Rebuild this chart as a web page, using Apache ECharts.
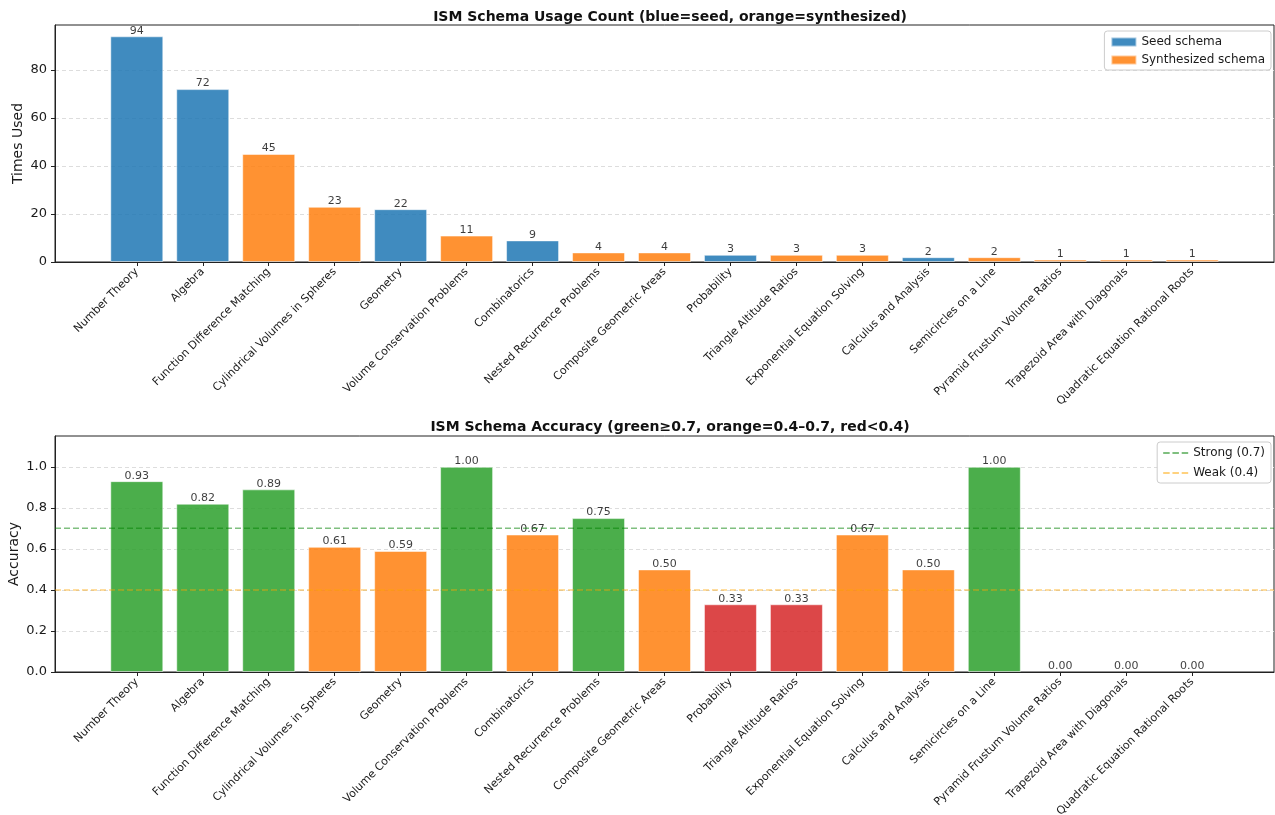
<!DOCTYPE html>
<html>
<head>
<meta charset="utf-8">
<script src="https://cdn.jsdelivr.net/npm/echarts@6/dist/echarts.min.js"></script>
<style>
  html, body { margin: 0; padding: 0; background: #fff; }
  #main { width: 1275px; height: 815px; }
</style>
</head>
<body>
<div id="main"></div>
<script>
// schema names, in plot order
const schemas = [
  'Number Theory', 'Algebra', 'Function Difference Matching', 'Cylindrical Volumes in Spheres',
  'Geometry', 'Volume Conservation Problems', 'Combinatorics', 'Nested Recurrence Problems',
  'Composite Geometric Areas', 'Probability', 'Triangle Altitude Ratios', 'Exponential Equation Solving',
  'Calculus and Analysis', 'Semicircles on a Line', 'Pyramid Frustum Volume Ratios',
  'Trapezoid Area with Diagonals', 'Quadratic Equation Rational Roots'
];
const usageCount = [94, 72, 45, 23, 22, 11, 9, 4, 4, 3, 3, 3, 2, 2, 1, 1, 1];
const isSeed = [true, true, false, false, true, false, true, false, false, true, false, false, true, false, false, false, false];
const accuracy = [0.93, 0.82, 0.89, 0.61, 0.59, 1.00, 0.67, 0.75, 0.50, 0.33, 0.33, 0.67, 0.50, 1.00, 0.00, 0.00, 0.00];
const strongLine = 0.7;
const weakLine = 0.4;

const FONT = 'DejaVu Sans';
const BLUE = '#1f77b4', ORANGE = '#ff7f0e', GREEN = '#2ca02c', RED = '#d62728';

const myChart = echarts.init(document.getElementById('main'), null, { renderer: 'canvas' });

const idx = schemas.map((_, i) => i);
const XMIN = -1.24, XMAX = 17.24;

function xAxisFor(gridIndex) {
  return {
    type: 'value', gridIndex, min: XMIN, max: XMAX,
    splitLine: { show: false },
    axisLine: { show: true, onZero: false, lineStyle: { color: '#222', width: 1 } },
    axisTick: { show: true, customValues: idx, length: 4, lineStyle: { color: '#222' } },
    axisLabel: {
      customValues: idx, rotate: 45, margin: 8, fontSize: 11, color: '#1a1a1a', fontFamily: FONT,
      formatter: v => schemas[Math.round(v)]
    }
  };
}

function yAxisFor(gridIndex, name, max, interval, gap, fmt) {
  return {
    type: 'value', gridIndex, min: 0, max, interval,
    name, nameLocation: 'middle', nameGap: gap, nameMoveOverlap: false,
    nameTextStyle: { fontSize: 14, color: '#1a1a1a', fontFamily: FONT },
    axisLine: { show: true, onZero: false, lineStyle: { color: '#222' } },
    axisTick: { show: true, length: 4, lineStyle: { color: '#222' } },
    axisLabel: { fontSize: 13, color: '#1a1a1a', fontFamily: FONT, showMaxLabel: false, formatter: fmt },
    splitLine: { show: true, showMinLine: false, showMaxLine: false,
      lineStyle: { color: '#dddddd', type: [4, 3], width: 1 } }
  };
}

const seedData = [], synthData = [];
idx.forEach(i => {
  (isSeed[i] ? seedData : synthData).push([i, usageCount[i]]);
});

const accColor = v => v >= 0.7 ? GREEN : (v >= 0.4 ? ORANGE : RED);
const accData = idx.map(i => ({
  value: [i, accuracy[i]],
  itemStyle: { color: accColor(accuracy[i]), borderWidth: accuracy[i] > 0 ? 1 : 0 }
}));

const barLabel = fmt => ({
  show: true, position: 'top', distance: 0, fontSize: 11, color: '#1a1a1a', fontFamily: FONT, formatter: fmt
});
const barStyle = c => ({ color: c, opacity: 0.85, borderColor: 'rgba(255,255,255,0.6)', borderWidth: 1 });

const dash = 'path://M0,0h7v2h-7zM10,0h7v2h-7zM20,0h7v2h-7z';

myChart.setOption({
  animation: false,
  textStyle: { fontFamily: FONT },
  title: [
    { text: 'ISM Schema Usage Count (blue=seed, orange=synthesized)', left: 665, top: 5, textAlign: 'center',
      textStyle: { fontSize: 14, fontWeight: 'bold', color: '#111', fontFamily: FONT } },
    { text: 'ISM Schema Accuracy (green\u22650.7, orange=0.4\u20130.7, red<0.4)', left: 665, top: 415, textAlign: 'center',
      textStyle: { fontSize: 14, fontWeight: 'bold', color: '#111', fontFamily: FONT } }
  ],
  grid: [
    { left: 55, right: 1, top: 25, bottom: 553, show: true, borderColor: '#222', borderWidth: 1,
      outerBoundsMode: 'none' },
    { left: 55, right: 1, top: 436, bottom: 143, show: true, borderColor: '#222', borderWidth: 1,
      outerBoundsMode: 'none' }
  ],
  legend: [
    { data: [{ name: 'Seed schema', icon: 'rect' }, { name: 'Synthesized schema', icon: 'rect' }],
      right: 4, top: 31, orient: 'vertical', itemWidth: 25, itemHeight: 9, itemGap: 6,
      textStyle: { fontSize: 12, color: '#1a1a1a', fontFamily: FONT },
      borderColor: '#cccccc', borderWidth: 1, borderRadius: 3, padding: [5, 6, 4, 6], backgroundColor: '#fff' },
    { data: [{ name: 'Strong (0.7)', icon: dash }, { name: 'Weak (0.4)', icon: dash }],
      right: 4, top: 442, orient: 'vertical', itemWidth: 25, itemHeight: 2, itemGap: 8,
      textStyle: { fontSize: 12, color: '#1a1a1a', fontFamily: FONT },
      borderColor: '#cccccc', borderWidth: 1, borderRadius: 3, padding: [5, 6, 4, 6], backgroundColor: '#fff' }
  ],
  xAxis: [xAxisFor(0), xAxisFor(1)],
  yAxis: [
    yAxisFor(0, 'Times Used', 98.7, 20, 30, v => v),
    yAxisFor(1, 'Accuracy', 1.15, 0.2, 34, v => v.toFixed(1))
  ],
  series: [
    { name: 'Seed schema', type: 'bar', xAxisIndex: 0, yAxisIndex: 0, barWidth: 53, barGap: '-100%',
      data: seedData, itemStyle: barStyle(BLUE), label: barLabel(p => p.value[1]) },
    { name: 'Synthesized schema', type: 'bar', xAxisIndex: 0, yAxisIndex: 0, barWidth: 53, barGap: '-100%',
      data: synthData, itemStyle: barStyle(ORANGE), label: barLabel(p => p.value[1]) },
    { name: 'Accuracy', type: 'bar', xAxisIndex: 1, yAxisIndex: 1, barWidth: 53,
      data: accData, itemStyle: { opacity: 0.85, borderColor: 'rgba(255,255,255,0.6)' },
      label: barLabel(p => p.value[1].toFixed(2)) },
    { name: 'Strong (0.7)', type: 'line', xAxisIndex: 1, yAxisIndex: 1, symbol: 'none', z: 5,
      data: [[XMIN, strongLine], [XMAX, strongLine]],
      itemStyle: { color: 'rgba(0,128,0,0.5)' },
      lineStyle: { color: 'rgba(0,128,0,0.5)', width: 1.5, type: [6, 3] } },
    { name: 'Weak (0.4)', type: 'line', xAxisIndex: 1, yAxisIndex: 1, symbol: 'none', z: 5,
      data: [[XMIN, weakLine], [XMAX, weakLine]],
      itemStyle: { color: 'rgba(255,165,0,0.5)' },
      lineStyle: { color: 'rgba(255,165,0,0.5)', width: 1.5, type: [6, 3] } }
  ]
});
</script>
</body>
</html>
